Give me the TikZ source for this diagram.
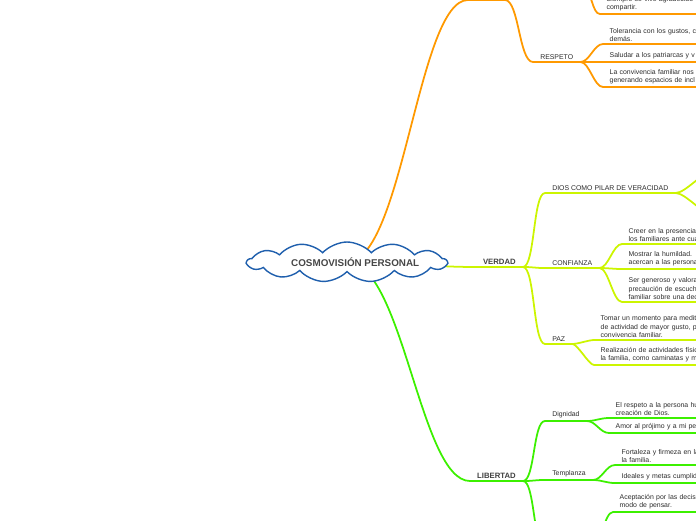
\documentclass[tikz,border=0pt]{standalone}
\usepackage{fontspec}
\setmainfont{Liberation Sans}
\usepackage{tikz}
\usetikzlibrary{shapes.symbols,positioning}
\definecolor{clrCloud}{HTML}{1F5FAD}
\definecolor{clrOrange}{HTML}{FF9900}
\definecolor{clrLime}{HTML}{CCF500}
\definecolor{clrGreen}{HTML}{3CF000}
\definecolor{clrText}{HTML}{2B2B2B}
\tikzset{
  central/.style={cloud, cloud puffs=13, cloud puff arc=95, cloud ignores aspect,
    draw=clrCloud, line width=1.2pt, fill=white, inner sep=0pt,
    minimum width=5.9cm, minimum height=1.2cm,
    font=\fontsize{8.4}{10}\selectfont\bfseries, text=black!72},
  hauptast/.style={anchor=south east, inner xsep=6pt, inner ysep=2.2pt,
    font=\fontsize{6.6}{8}\selectfont\bfseries, text=black!75},
  unterast/.style={anchor=south west, inner xsep=6pt, inner ysep=2.2pt,
    align=left, font=\fontsize{5.9}{6.9}\selectfont, text=clrText},
  blatt/.style={unterast, inner xsep=5.5pt, text width=5cm},
  ast/.style={line width=1.5pt, draw=#1, line cap=round, line join=round},
}

\begin{document}
\begin{tikzpicture}[x=0.03cm, y=-0.03cm]
\useasboundingbox (0,0) rectangle (696,520);
\clip (0,0) rectangle (696,520);

\coordinate (mitte) at (347,262);

% Knoten ausserhalb des Bildausschnitts
\coordinate (amor) at (468,0);
\coordinate (amorEnde) at (505,0);
\coordinate (gratitud) at (584,-10);
\coordinate (diosA) at (712,172);
\coordinate (diosB) at (712,214);
\coordinate (acepPadre) at (545,548);
\coordinate (acepPadreEnde) at (592,548);

% Hauptaeste
\node[hauptast] (verdad) at (523,267) {VERDAD};
\node[hauptast] (libertad) at (523,481) {LIBERTAD};

% Unteraeste
\node[unterast] (respeto) at (533,62) {RESPETO};
\node[unterast] (dios) at (545,193) {DIOS COMO PILAR DE VERACIDAD};
\node[unterast] (conf) at (545,268) {CONFIANZA};
\node[unterast] (paz) at (545,344) {PAZ};
\node[unterast] (dign) at (545,421) {Dignidad};
\node[unterast] (templ) at (545,480) {Templanza};

% Blaetter
\node[blatt] (siempre) at (600,14) {Siempre se vive agradecido\\compartir.};
\node[blatt] (tol) at (603,44) {Tolerancia con los gustos, c\\dem\'as.};
\node[blatt] (sal) at (603,62) {Saludar a los patriarcas y v};
\node[blatt] (conv) at (603,87) {La convivencia familiar nos\\generando espacios de incl};
\node[blatt] (creer) at (622,244) {Creer en la presencia\\los familiares ante cua};
\node[blatt] (mostrar) at (622,269) {Mostrar la humildad. L\\acercan a las persona};
\node[blatt] (ser) at (622,302) {Ser generoso y valora\\precauci\'on de escuch\\familiar sobre una dec};
\node[blatt] (tomar) at (594,340) {Tomar un momento para medit\\de actividad de mayor gusto, p\\convivencia familiar.};
\node[blatt] (realiz) at (594,365) {Realizaci\'on de actividades f\'isic\\la familia, como caminatas y m};
\node[blatt] (elresp) at (609,418) {El respeto a la persona hu\\creaci\'on de Dios.};
\node[blatt] (amorp) at (609,433) {Amor al pr\'ojimo y a mi per};
\node[blatt] (forta) at (615,465) {Fortaleza y firmeza en la\\la familia.};
\node[blatt] (ideales) at (615,483) {Ideales y metas cumplid};
\node[blatt] (acept) at (613,512) {Aceptaci\'on por las decis\\modo de pensar.};

% Aeste vom Zentrum (liegen unter der Wolke)
\draw[ast=clrOrange] (mitte) .. controls +(56,0) and +(-50,0) .. (amor) -- (amorEnde);
\draw[ast=clrLime] (mitte) .. controls +(44,0) and +(-44,0) .. (verdad.south west) -- (verdad.south east);
\draw[ast=clrGreen] (mitte) .. controls +(56,0) and +(-50,0) .. (libertad.south west) -- (libertad.south east);

\node[central] (cosmo) at (mitte) {\hspace*{14pt}COSMOVISI\'ON PERSONAL};

% zweite Ebene
\draw[ast=clrOrange] (amorEnde) .. controls +(14,0) and +(-14,0) .. (respeto.south west) -- (respeto.south east);
\foreach \z in {dios, conf, paz}
  \draw[ast=clrLime] (verdad.south east) .. controls +(12,0) and +(-12,0) .. (\z.south west) -- (\z.south east);
\foreach \z in {dign, templ}
  \draw[ast=clrGreen] (libertad.south east) .. controls +(12,0) and +(-12,0) .. (\z.south west) -- (\z.south east);
\draw[ast=clrGreen] (libertad.south east) .. controls +(12,0) and +(-12,0) .. (acepPadre) -- (acepPadreEnde);

% Blaetter
\draw[ast=clrOrange] (gratitud) .. controls +(8,0) and +(-8,0) .. (siempre.south west) -- (siempre.south east);
\foreach \b in {tol, sal, conv}
  \draw[ast=clrOrange] (respeto.south east) .. controls +(9,0) and +(-9,0) .. (\b.south west) -- (\b.south east);
\foreach \c in {diosA, diosB}
  \draw[ast=clrLime] (dios.south east) .. controls +(10,0) and +(-10,0) .. (\c);
\foreach \b in {creer, mostrar, ser}
  \draw[ast=clrLime] (conf.south east) .. controls +(9,0) and +(-9,0) .. (\b.south west) -- (\b.south east);
\foreach \b in {tomar, realiz}
  \draw[ast=clrLime] (paz.south east) .. controls +(5,0) and +(-5,0) .. (\b.south west) -- (\b.south east);
\foreach \b in {elresp, amorp}
  \draw[ast=clrGreen] (dign.south east) .. controls +(9,0) and +(-9,0) .. (\b.south west) -- (\b.south east);
\foreach \b in {forta, ideales}
  \draw[ast=clrGreen] (templ.south east) .. controls +(9,0) and +(-9,0) .. (\b.south west) -- (\b.south east);
\draw[ast=clrGreen] (acepPadreEnde) .. controls +(9,0) and +(-9,0) .. (acept.south west) -- (acept.south east);

\end{tikzpicture}
\end{document}
